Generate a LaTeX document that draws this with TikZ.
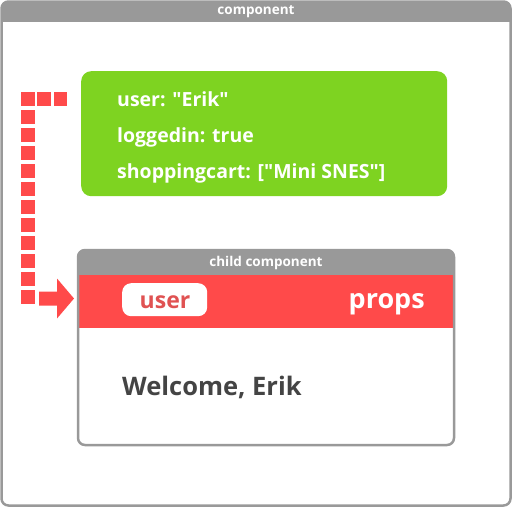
\documentclass[tikz,border=0pt]{standalone}
\usepackage{fontspec}
\setmainfont{Open Sans}[Ligatures=TeXOff]
\usetikzlibrary{calc}

\definecolor{framegray}{HTML}{999999}
\definecolor{stategreen}{HTML}{7ED321}
\definecolor{propred}{HTML}{FF4A4A}
\definecolor{pilltext}{HTML}{E05252}
\definecolor{bodytext}{HTML}{444444}

\newcommand{\dq}{\char34}

\tikzset{
  frame/.style={draw=framegray, line width=2.5pt, rounded corners=7pt},
  headtext/.style={text=white, font=\bfseries\fontsize{13.5}{15}\selectfont, inner sep=0pt},
  statetext/.style={text=white, font=\bfseries\fontsize{19.5}{23}\selectfont, inner sep=0pt, anchor=base west},
  statebox/.style={fill=stategreen, rounded corners=10pt, inner sep=0pt, anchor=north west},
  pill/.style={fill=white, rounded corners=9pt, inner sep=0pt, anchor=north west},
  flowsq/.style={fill=propred},
}

\begin{document}
\begin{tikzpicture}[x=1pt, y=-1pt]
\useasboundingbox (0,0) rectangle (512,507);

% outer component frame with its title bar
\node[inner sep=0pt, minimum width=509pt, minimum height=504pt] (comp) at (256,253.5) {};
\begin{scope}
  \clip[rounded corners=7pt] (1.5,1.5) rectangle (510.5,505.5);
  \fill[framegray] (0,0) rectangle (512,22);
\end{scope}
\draw[frame] (1.5,1.5) rectangle (510.5,505.5);
\node[headtext] (comptitle) at (256,11.5) {component};

% state object
\node[statebox, minimum width=366pt, minimum height=125pt] (state) at (81,71) {};
\node[statetext] (l1) at (117,106) {user: \dq Erik\dq};
\node[statetext] (l2) at (117,142) {loggedin: true};
\node[statetext] (l3) at (117,178) {shoppingcart: [\dq Mini SNES\dq]};

% child component frame
\node[inner sep=0pt, minimum width=378pt, minimum height=197pt, anchor=north west] (child) at (77,249) {};
\begin{scope}
  \clip[rounded corners=7pt] (78,250) rectangle (454,445);
  \fill[framegray] (76,248) rectangle (456,275);
  \fill[propred] (76,275) rectangle (456,328);
\end{scope}
\draw[frame] (78,250) rectangle (454,445);
\node[headtext] (childtitle) at (266,262.5) {child component};

% props band
\node[pill, minimum width=85pt, minimum height=33pt] (pill) at (122,283) {};
\node[text=pilltext, font=\bfseries\fontsize{23}{26}\selectfont, inner sep=0pt, anchor=base] (propuser) at (165,308) {user};
\node[text=white, font=\bfseries\fontsize{27}{31}\selectfont, inner sep=0pt, anchor=base west] (props) at (348.5,308.5) {props};

% rendered output
\node[text=bodytext, font=\bfseries\fontsize{25.5}{29}\selectfont, inner sep=0pt, anchor=base west] (welcome) at (122,395) {Welcome, Erik};

% dotted flow from the state into the child's props
\foreach \x in {37.3,53.6}
  \fill[flowsq] (\x,92) rectangle ++(13.5,14);
\foreach \k in {0,...,11}
  \fill[flowsq] (21,92+18*\k) rectangle ++(14,14);
\coordinate (tail) at (39,298.5);
\coordinate (tip) at ($(child.west |- tail)+(-3,0)$);
\fill[propred] ($(tail)+(0,-7)$) -- ($(tip)+(-17,-7)$) -- ($(tip)+(-17,-20)$)
  -- (tip) -- ($(tip)+(-17,20)$) -- ($(tip)+(-17,7)$) -- ($(tail)+(0,7)$) -- cycle;
\end{tikzpicture}
\end{document}
